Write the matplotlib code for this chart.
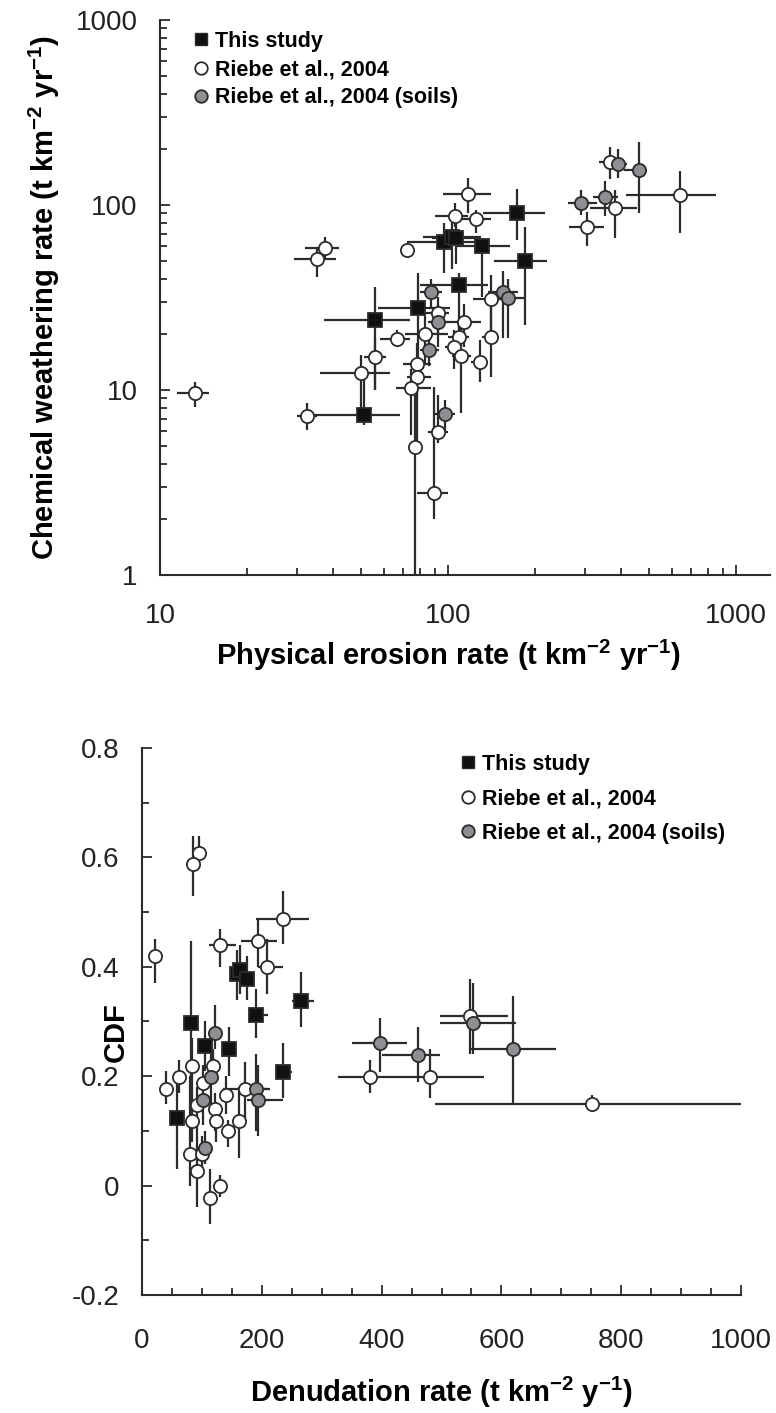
import numpy as np
import matplotlib
matplotlib.use("Agg")
import matplotlib.pyplot as plt
from matplotlib.lines import Line2D
from matplotlib.ticker import FixedLocator, FixedFormatter, MultipleLocator, FuncFormatter, NullFormatter

plt.rcParams['font.family'] = ['Liberation Sans', 'DejaVu Sans']
plt.rcParams['mathtext.fontset'] = 'custom'
plt.rcParams['mathtext.rm'] = 'Liberation Sans:bold'
plt.rcParams['mathtext.bf'] = 'Liberation Sans:bold'
plt.rcParams['mathtext.default'] = 'bf'
plt.rcParams['axes.unicode_minus'] = False

# ---- top panel: physical erosion vs chemical weathering (t km-2 yr-1) ----
# this study
top_ts_x   = [174, 185, 97, 103, 107, 131, 109, 79, 56, 51]
top_ts_y   = [90, 50, 63, 67, 66, 60, 37, 27.6, 24, 7.3]
top_ts_xlo = [132, 145, 72, 82, 88, 107, 80, 57, 37, 34]
top_ts_xhi = [218, 220, 125, 130, 128, 164, 138, 102, 74, 68]
top_ts_ylo = [65, 22.5, 43, 45, 48, 32, 18, 14, 10, 6.5]
top_ts_yhi = [122, 76, 80, 82, 80, 66, 43, 43, 36, 12]

# Riebe et al., 2004
top_rb_x   = [117, 106, 125, 37.3, 35.1, 72, 141, 92, 114, 83, 66.5, 109, 105, 111, 129,
              141, 56, 50, 78, 78, 74.5, 32.4, 92, 77, 89.3, 13.2, 304, 381, 641, 366]
top_rb_y   = [114, 87.5, 84, 58.8, 51, 57, 31, 26, 23.4, 20, 18.9, 19.3, 17.1, 15.3, 14.2,
              19.3, 15, 12.4, 13.9, 11.8, 10.2, 7.2, 5.95, 4.94, 2.78, 9.6, 75.7, 96, 113, 171]
top_rb_xlo = [96, 90, 111, 32, 29.3, 70, 122, 83, 100, 71, 58, 100, 98, 103, 120,
              131, 51, 36, 70, 72, 66, 30, 85, 74, 78, 11.5, 264, 311, 415, 335]
top_rb_xhi = [141, 117, 141, 42, 41, 74, 165, 101, 130, 100, 74, 118, 112, 120, 138,
              150, 61, 63, 87, 87, 87, 35, 100, 81, 100, 14.8, 349, 455, 855, 410]
top_rb_ylo = [90, 76, 71, 52, 41, 55, 19.3, 20, 17, 14, 17, 15, 13, 7.5, 11.1,
              11.7, 10, 7.6, 5, 9, 5.7, 6.1, 5.2, 0.9, 2.0, 8.1, 60, 66, 71, 139]
top_rb_yhi = [140, 102, 94, 67, 58.5, 59, 42, 32, 29, 25, 21, 24, 21, 22, 18.6,
              29, 19, 15.5, 18, 14, 13, 8.5, 9.4, 9.4, 10.4, 11, 92, 120, 153, 205]

# Riebe et al., 2004 (soils)
top_sl_x   = [87, 92, 86, 155, 161, 98, 290, 350, 389, 460]
top_sl_y   = [34, 23.2, 16.5, 34, 31.3, 7.4, 103, 111, 166, 155]
top_sl_xlo = [80, 85, 80, 138, 148, 90, 262, 320, 350, 410]
top_sl_xhi = [95, 100, 93, 175, 185, 106, 330, 390, 420, 480]
top_sl_ylo = [28, 17, 13.5, 19, 19, 6, 88, 87, 140, 90]
top_sl_yhi = [40, 29, 19.5, 44, 40, 8.8, 120, 135, 200, 218]

# ---- bottom panel: denudation rate vs CDF ----
bot_ts_x   = [159, 164, 175, 265, 190, 81, 105, 146, 235, 58]
bot_ts_y   = [0.386, 0.395, 0.377, 0.338, 0.311, 0.297, 0.256, 0.249, 0.208, 0.124]
bot_ts_xlo = [150, 155, 165, 250, 178, 78, 98, 138, 225, 55]
bot_ts_xhi = [170, 175, 185, 287, 210, 84, 112, 154, 250, 61]
bot_ts_ylo = [0.34, 0.35, 0.34, 0.29, 0.27, 0.20, 0.21, 0.20, 0.16, 0.03]
bot_ts_yhi = [0.43, 0.44, 0.42, 0.39, 0.36, 0.447, 0.30, 0.29, 0.26, 0.20]

bot_rb_x   = [95.7, 85.7, 235, 193, 130, 208, 21.7, 40, 62, 83, 118, 102, 140, 172, 92, 122,
              83, 124, 162, 143, 80, 100, 92, 130, 114, 381, 481, 548, 751]
bot_rb_y   = [0.608, 0.588, 0.488, 0.448, 0.44, 0.40, 0.42, 0.177, 0.198, 0.218, 0.218, 0.188,
              0.166, 0.177, 0.148, 0.140, 0.119, 0.119, 0.119, 0.099, 0.057, 0.057, 0.026,
              0.0, -0.022, 0.198, 0.198, 0.31, 0.150]
bot_rb_xlo = [88, 76, 191, 165, 112, 193, 18, 36, 55, 75, 110, 95, 130, 135, 86, 115,
              76, 116, 150, 136, 75, 94, 88, 125, 109, 327, 434, 498, 489]
bot_rb_xhi = [104, 95, 278, 226, 157, 235, 25, 44, 70, 92, 126, 110, 150, 214, 98, 130,
              90, 132, 175, 152, 86, 108, 97, 136, 120, 434, 571, 611, 1007]
bot_rb_ylo = [0.58, 0.53, 0.442, 0.40, 0.40, 0.35, 0.37, 0.15, 0.17, 0.14, 0.19, 0.15,
              0.13, 0.12, 0.10, 0.10, 0.08, 0.08, 0.05, 0.07, 0.0, 0.03, -0.04,
              -0.02, -0.07, 0.17, 0.16, 0.24, 0.135]
bot_rb_yhi = [0.64, 0.64, 0.539, 0.49, 0.47, 0.45, 0.45, 0.21, 0.23, 0.27, 0.25, 0.22,
              0.20, 0.226, 0.18, 0.17, 0.15, 0.15, 0.18, 0.12, 0.20, 0.09, 0.10,
              0.02, 0.03, 0.23, 0.25, 0.378, 0.165]

bot_sl_x   = [122, 115, 102, 190, 193, 106, 397, 460, 553, 619]
bot_sl_y   = [0.279, 0.198, 0.157, 0.177, 0.156, 0.069, 0.26, 0.238, 0.297, 0.249]
bot_sl_xlo = [116, 108, 95, 180, 175, 100, 350, 400, 498, 548]
bot_sl_xhi = [128, 122, 110, 210, 235, 112, 443, 498, 625, 691]
bot_sl_ylo = [0.25, 0.15, 0.11, 0.10, 0.09, 0.04, 0.208, 0.19, 0.24, 0.15]
bot_sl_yhi = [0.33, 0.24, 0.20, 0.24, 0.22, 0.10, 0.307, 0.29, 0.37, 0.347]

labels = ['This study', 'Riebe et al., 2004', 'Riebe et al., 2004 (soils)']

LINE = '#2b2b2b'
GRAY = '#8e8e93'
TICK_FS = 20
LAB_FS = 21
LEG_FS = 15.5


def draw(ax, x, y, xlo, xhi, ylo, yhi, marker, face, ms):
    x = np.array(x, float); y = np.array(y, float)
    xerr = [x - np.array(xlo), np.array(xhi) - x]
    yerr = [y - np.array(ylo), np.array(yhi) - y]
    ax.errorbar(x, y, xerr=xerr, yerr=yerr, fmt='none', ecolor=LINE,
                elinewidth=1.6, capsize=0, zorder=2, clip_on=True)
    ax.plot(x, y, ls='none', marker=marker, mfc=face, mec=LINE, mew=1.3,
            ms=ms, zorder=3)


def style(ax):
    for s in ['top', 'right']:
        ax.spines[s].set_visible(False)
    for s in ['left', 'bottom']:
        ax.spines[s].set_linewidth(1.5)
        ax.spines[s].set_color(LINE)
    ax.tick_params(which='both', direction='in', color=LINE, width=1.3,
                   labelsize=TICK_FS, labelcolor='#222222')
    ax.tick_params(which='major', length=7)
    ax.tick_params(which='minor', length=5)


def legend(ax, anchor, spacing):
    h = [Line2D([], [], ls='none', marker='s', mfc='#111111', mec=LINE, ms=9),
         Line2D([], [], ls='none', marker='o', mfc='white', mec=LINE, mew=1.3, ms=9),
         Line2D([], [], ls='none', marker='o', mfc=GRAY, mec=LINE, mew=1.3, ms=9)]
    ax.legend(h, labels, loc='upper left', bbox_to_anchor=anchor,
              bbox_transform=ax.figure.transFigure, frameon=False,
              prop={'weight': 'bold', 'size': LEG_FS}, handlelength=0.6,
              handletextpad=0.35, labelspacing=spacing, borderpad=0,
              borderaxespad=0)


W, H = 776, 1413
fig = plt.figure(figsize=(W / 100, H / 100), dpi=100)

# top panel
ax1 = fig.add_axes([160 / W, 1 - 575 / H, 610 / W, 555 / H])
ax1.set_xscale('log'); ax1.set_yscale('log')
ax1.set_xlim(10, 1313)
ax1.set_ylim(1, 1000)
draw(ax1, top_rb_x, top_rb_y, top_rb_xlo, top_rb_xhi, top_rb_ylo, top_rb_yhi, 'o', 'white', 9.5)
draw(ax1, top_sl_x, top_sl_y, top_sl_xlo, top_sl_xhi, top_sl_ylo, top_sl_yhi, 'o', GRAY, 9.5)
draw(ax1, top_ts_x, top_ts_y, top_ts_xlo, top_ts_xhi, top_ts_ylo, top_ts_yhi, 's', '#111111', 9.5)
style(ax1)
ax1.xaxis.set_major_locator(FixedLocator([10, 100, 1000]))
ax1.xaxis.set_major_formatter(FixedFormatter(['10', '100', '1000']))
ax1.xaxis.set_minor_locator(FixedLocator([m * d for d in (10, 100) for m in range(2, 10)]))
ax1.xaxis.set_minor_formatter(NullFormatter())
ax1.yaxis.set_major_locator(FixedLocator([1, 10, 100, 1000]))
ax1.yaxis.set_major_formatter(FixedFormatter(['1', '10', '100', '1000']))
ax1.yaxis.set_minor_locator(FixedLocator([m * d for d in (1, 10, 100) for m in range(2, 10)]))
ax1.yaxis.set_minor_formatter(NullFormatter())
ax1.tick_params(axis='x', which='major', pad=20)
ax1.tick_params(axis='y', which='major', pad=16)
ax1.set_xlabel('Physical erosion rate (t km$^{-2}$ yr$^{-1}$)', fontsize=LAB_FS,
               fontweight='bold', labelpad=2)
ax1.xaxis.set_label_coords((449 - 160) / 610, -0.113)
ax1.set_ylabel('Chemical weathering rate (t km$^{-2}$ yr$^{-1}$)', fontsize=LAB_FS,
               fontweight='bold', labelpad=10)
legend(ax1, (195 / W, 1 - 31 / H), 0.33)

# bottom panel
ax2 = fig.add_axes([142 / W, 1 - 1295 / H, 599 / W, 547 / H])
ax2.set_xlim(0, 1000)
ax2.set_ylim(-0.2, 0.8)
draw(ax2, bot_rb_x, bot_rb_y, bot_rb_xlo, bot_rb_xhi, bot_rb_ylo, bot_rb_yhi, 'o', 'white', 9.5)
draw(ax2, bot_sl_x, bot_sl_y, bot_sl_xlo, bot_sl_xhi, bot_sl_ylo, bot_sl_yhi, 'o', GRAY, 9.5)
draw(ax2, bot_ts_x, bot_ts_y, bot_ts_xlo, bot_ts_xhi, bot_ts_ylo, bot_ts_yhi, 's', '#111111', 9.5)
style(ax2)
ax2.xaxis.set_major_locator(MultipleLocator(200))
ax2.xaxis.set_minor_locator(MultipleLocator(50))
ax2.yaxis.set_major_locator(MultipleLocator(0.2))
ax2.yaxis.set_minor_locator(MultipleLocator(0.1))
ax2.yaxis.set_major_formatter(FuncFormatter(lambda v, p: '0' if abs(v) < 1e-9 else f'{v:.1f}'))
ax2.tick_params(axis='x', which='major', pad=24)
ax2.tick_params(axis='y', which='major', pad=16)
ax2.set_xlabel('Denudation rate (t km$^{-2}$ y$^{-1}$)', fontsize=LAB_FS,
               fontweight='bold', labelpad=15)
ax2.set_ylabel('CDF', fontsize=LAB_FS, fontweight='bold')
ax2.yaxis.set_label_coords((130 - 142) / 599, (1295 - 1032) / 547)
legend(ax2, (462 / W, 1 - 754 / H), 0.62)

fig.savefig('out.png', dpi=100)
